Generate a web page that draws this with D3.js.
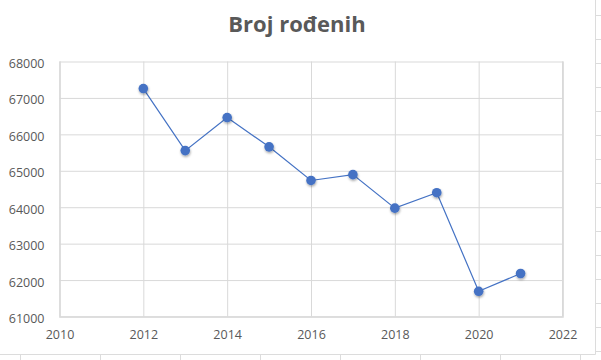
<!DOCTYPE html>
<html><head><meta charset="utf-8">
<script src="https://cdn.jsdelivr.net/npm/d3@7"></script>
<style>html,body{margin:0;padding:0;background:#fff;}svg{display:block;}</style>
</head><body>
<script>
const years = [2012, 2013, 2014, 2015, 2016, 2017, 2018, 2019, 2020, 2021];
const births = [67257, 65554, 66461, 65657, 64734, 64894, 63975, 64399, 61692, 62180];
const xTicks = [2010, 2012, 2014, 2016, 2018, 2020, 2022];
const yTicks = [61000, 62000, 63000, 64000, 65000, 66000, 67000, 68000];
const title = "Broj rođenih";

const W = 601, H = 360;
const svg = d3.select("body").append("svg").attr("width", W).attr("height", H);
const x = d3.scaleLinear().domain([2010, 2022]).range([59.5, 562.5]);
const y = d3.scaleLinear().domain([61000, 68000]).range([316.5, 61.5]);
const grid = "#d9d9d9", txt = "#595959", blue = "#4472C4";
const font = "'Open Sans', 'Liberation Sans', sans-serif";

// spreadsheet cell borders outside chart
svg.append("line").attr("x1", 595.5).attr("x2", 595.5).attr("y1", 0).attr("y2", 354.5).attr("stroke", "#dcdcdc");
svg.append("line").attr("x1", 0).attr("x2", 595.5).attr("y1", 354.5).attr("y2", 354.5).attr("stroke", "#dcdcdc");
svg.selectAll(".rt").data(d3.range(15, 354, 24)).enter().append("line")
  .attr("x1", 595.5).attr("x2", 601).attr("y1", d => d + 0.5).attr("y2", d => d + 0.5).attr("stroke", "#dcdcdc");
svg.selectAll(".bt").data(d3.range(20, 595, 80)).enter().append("line")
  .attr("x1", d => d + 0.5).attr("x2", d => d + 0.5).attr("y1", 354.5).attr("y2", 360).attr("stroke", "#dcdcdc");

// title
svg.append("text").attr("x", 297).attr("y", 32).attr("text-anchor", "middle")
  .attr("font-family", font).attr("font-weight", "bold").attr("font-size", 22)
  .attr("fill", txt).text(title);

// gridlines
svg.append("g").attr("transform", `translate(0,${y(61000)})`)
  .call(d3.axisBottom(x).tickValues(xTicks).tickSize(-(y(61000) - y(68000))).tickFormat(d3.format("d")).tickPadding(14))
  .call(g => g.select(".domain").attr("stroke", grid).attr("stroke-width", 1.5))
  .call(g => g.selectAll(".tick line").attr("stroke", grid))
  .call(g => g.selectAll("text").attr("fill", txt).attr("font-family", font).attr("font-size", 12.5));

svg.append("g").attr("transform", `translate(${x(2010)},0)`)
  .call(d3.axisLeft(y).tickValues(yTicks).tickSize(-(x(2022) - x(2010))).tickFormat(d3.format("d")).tickPadding(15))
  .call(g => g.select(".domain").remove())
  .call(g => g.selectAll(".tick line").attr("stroke", grid))
  .call(g => g.selectAll("text").attr("fill", txt).attr("font-family", font).attr("font-size", 12.5).attr("dy", "0.48em"));

// right plot border
svg.append("line").attr("x1", x(2022)).attr("x2", x(2022)).attr("y1", y(68000)).attr("y2", y(61000)).attr("stroke", grid);

const data = years.map((d, i) => ({ year: d, value: births[i] }));
const defs = svg.append("defs");
const f = defs.append("filter").attr("id", "sh").attr("x", "-50%").attr("y", "-50%").attr("width", "200%").attr("height", "200%");
f.append("feDropShadow").attr("dx", 0.5).attr("dy", 1.5).attr("stdDeviation", 1.2).attr("flood-color", "#000").attr("flood-opacity", 0.35);

svg.append("path").datum(data)
  .attr("d", d3.line().x(d => x(d.year)).y(d => y(d.value)))
  .attr("fill", "none").attr("stroke", blue).attr("stroke-width", 1.2);

svg.selectAll(".pt").data(data).enter().append("circle")
  .attr("cx", d => x(d.year)).attr("cy", d => y(d.value)).attr("r", 4.8)
  .attr("fill", blue).attr("filter", "url(#sh)");
</script>
</body></html>
